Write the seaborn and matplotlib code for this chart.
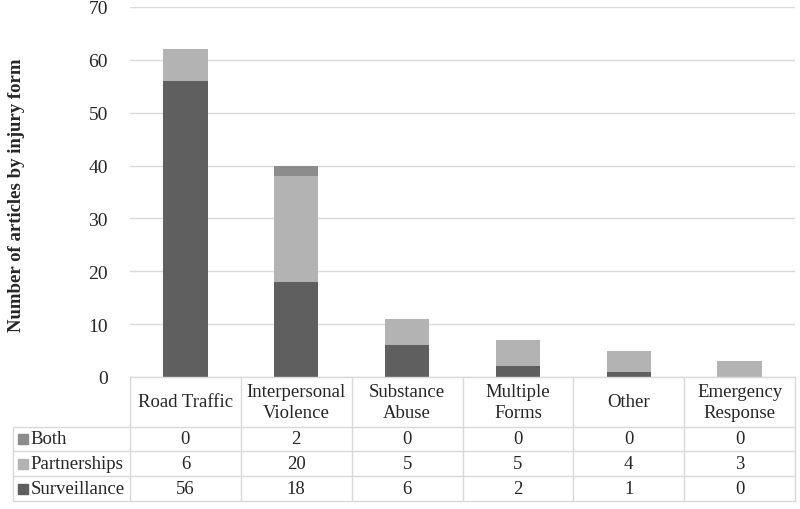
import numpy as np
import pandas as pd
import matplotlib
matplotlib.use("Agg")
import matplotlib.pyplot as plt
import seaborn as sns

sns.set_style("white")
plt.rcParams["font.family"] = ["Liberation Serif", "DejaVu Serif"]

## datos
categories = ["Road Traffic", "Interpersonal\nViolence", "Substance\nAbuse",
              "Multiple\nForms", "Other", "Emergency\nResponse"]
series = ["Both", "Partnerships", "Surveillance"]
both = [0, 2, 0, 0, 0, 0]
partnerships = [6, 20, 5, 5, 4, 3]
surveillance = [56, 18, 6, 2, 1, 0]
colors = {"Both": "#8c8c8c", "Partnerships": "#b3b3b3", "Surveillance": "#5f5f5f"}
grid_color = "#d9d9d9"

df = pd.DataFrame({"cat": categories, "Both": both,
                   "Partnerships": partnerships, "Surveillance": surveillance})
# acumulados para apilar (se dibuja de mayor a menor)
df["top_both"] = df["Surveillance"] + df["Partnerships"] + df["Both"]
df["top_part"] = df["Surveillance"] + df["Partnerships"]

W, H = 800, 510
fig = plt.figure(figsize=(W / 100, H / 100), dpi=100)
left, right = 130 / W, 795 / W
ax = fig.add_axes([left, 1 - 378 / H, right - left, (378 - 8) / H])
tab = fig.add_axes([left, 1 - 502 / H, right - left, (502 - 378) / H])

## barras apiladas
for col, name in [("top_both", "Both"), ("top_part", "Partnerships"),
                  ("Surveillance", "Surveillance")]:
    sns.barplot(data=df, x="cat", y=col, color=colors[name], width=0.4,
                saturation=1, linewidth=0, ax=ax, zorder=3)

ax.set_ylim(0, 70)
ax.set_xlim(-0.5, 5.5)
ax.set_yticks(range(0, 71, 10))
ax.yaxis.grid(True, color=grid_color, linewidth=1, zorder=0)
ax.set_axisbelow(True)
ax.tick_params(axis="y", labelsize=14, length=0, pad=16)
ax.set_xticks([])
ax.set_xlabel("")
ax.set_ylabel("Number of articles by injury form", fontsize=13.5,
              fontweight="bold")
ax.yaxis.set_label_coords(-0.158, 0.495)
for s in ax.spines.values():
    s.set_visible(False)

## tabla de datos
lab_w = 117 / ((795 - 130) / 6)
x0 = -0.5 - lab_w
tab.set_xlim(-0.5, 5.5)
tab.set_ylim(0, 5)
tab.axis("off")
lk = dict(color=grid_color, linewidth=1, clip_on=False)
for k in range(7):
    tab.plot([-0.5 + k, -0.5 + k], [0, 5], **lk)
tab.plot([x0, x0], [0, 3], **lk)
for y in [0, 1, 2, 3]:
    tab.plot([x0, 5.5], [y, y], **lk)
tab.plot([-0.5, 5.5], [5, 5], **lk)

for i, c in enumerate(categories):
    tab.text(i, 4, c, ha="center", va="center", fontsize=13.5, linespacing=1.3)

for r, name in enumerate(series):
    yc = 2.5 - r
    vals = df[name].tolist()
    tab.plot([x0 + 0.09], [yc], marker="s", markersize=6.5,
             color=colors[name], clip_on=False)
    tab.text(x0 + 0.16, yc, name, ha="left", va="center", fontsize=13.5)
    for i, v in enumerate(vals):
        tab.text(i, yc, str(v), ha="center", va="center", fontsize=13.5)

fig.savefig("out.png", dpi=100)
plt.close()
